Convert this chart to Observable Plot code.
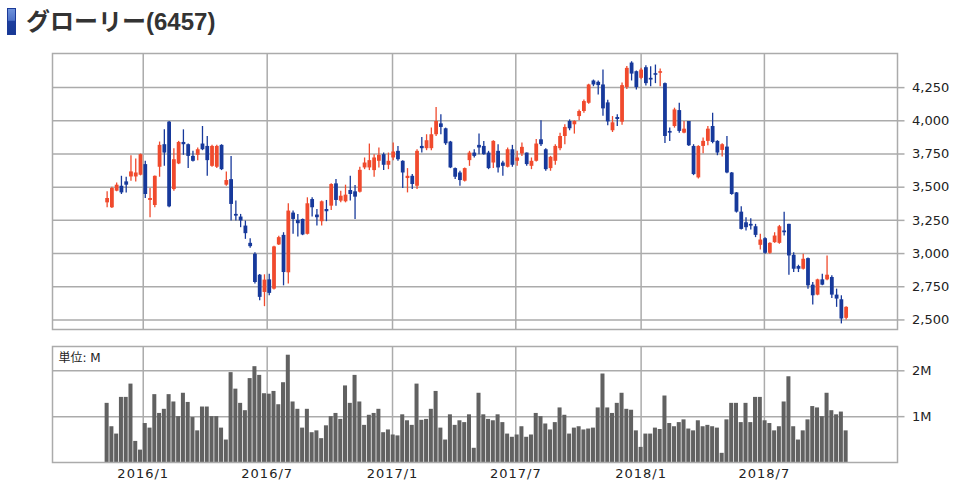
<!DOCTYPE html>
<html><head><meta charset="utf-8">
<script src="https://cdn.jsdelivr.net/npm/d3@7"></script>
<script src="https://cdn.jsdelivr.net/npm/@observablehq/plot@0.6"></script>
<style>
html,body{margin:0;padding:0;background:#fff}
body{width:953px;height:483px;overflow:hidden;position:relative}
#title{position:absolute;left:0;top:0}
#price{position:absolute;left:0;top:45px}
#vol{position:absolute;left:0;top:335px}
#vol svg g[aria-label="x-axis tick label"] text{letter-spacing:1px}
</style></head>
<body>
<svg id="title" width="953" height="45">
  <defs><linearGradient id="mg" x1="0" y1="0" x2="0" y2="1">
    <stop offset="0" stop-color="#6f93dc"/><stop offset="0.45" stop-color="#4f73c8"/><stop offset="0.5" stop-color="#1d3f9f"/><stop offset="1" stop-color="#173894"/></linearGradient></defs>
  <rect x="7.5" y="8.5" width="8" height="26" fill="url(#mg)" stroke="#1b3a98" stroke-width="1"/>
  <text x="26" y="30" font-family="'Liberation Sans','Noto Sans CJK JP',sans-serif" font-weight="bold" font-size="24" fill="#333">グローリー(6457)</text>
</svg>
<div id="price"></div>
<div id="vol"></div>
<script>
const open = [
 3382,3345,3470,3507,3540,3577,3577,3590,3670,3400,
 3362,3650,3820,3990,3482,3675,3837,3820,3732,3740,
 3825,3807,3657,3650,3815,3515,3557,3295,3275,3207,
 3077,2995,2837,2707,2802,2732,3065,3137,2855,3305,
 3250,3257,3145,3407,3290,3240,3332,3357,3525,3395,
 3390,3475,3465,3462,3645,3645,3625,3695,3745,3665,
 3720,3770,3695,3565,3582,3507,3807,3790,3790,3895,
 3977,3940,3840,3640,3607,3545,3700,3757,3815,3807,
 3757,3682,3770,3682,3650,3782,3695,3750,3757,3657,
 3695,3857,3782,3640,3695,3790,3882,3995,3970,4032,
 4070,4132,4300,4290,4270,4135,3925,4025,3990,4250,
 4435,4370,4320,4400,4320,4355,4358,4280,3920,3957,
 4077,3907,3995,3807,3570,3807,3845,3957,3845,3777,
 3802,3607,3457,3312,3232,3220,3202,3062,3112,3002,
 3082,3077,3170,3220,2987,2902,2882,2962,2762,2687,
 2802,2802,2820,2687,2652,2512];
const high = [
 3465,3500,3532,3582,3575,3737,3712,3750,3695,3490,
 3585,3840,3932,3995,3790,3845,3932,3825,3770,3795,
 3957,3882,3815,3815,3820,3615,3732,3395,3295,3245,
 3112,3007,2842,2840,2845,3055,3130,3157,3375,3320,
 3295,3260,3420,3420,3332,3395,3400,3525,3557,3470,
 3515,3582,3512,3650,3720,3825,3745,3795,3757,3757,
 3832,3807,3700,3640,3595,3782,3875,3895,3945,4100,
 4045,3945,3845,3645,3620,3645,3770,3782,3900,3845,
 3770,3850,3820,3695,3795,3815,3770,3832,3757,3720,
 3860,4000,3790,3732,3820,3907,3970,4007,4000,4082,
 4157,4275,4307,4300,4382,4155,4032,4045,4285,4410,
 4445,4375,4395,4415,4407,4420,4390,4285,3945,4095,
 4132,3995,3995,3820,3812,3870,3957,4057,3850,3827,
 3882,3610,3460,3352,3270,3262,3220,3145,3120,3082,
 3157,3212,3312,3220,3007,2912,2995,2967,2782,2807,
 2845,2982,2832,2732,2682,2600];
const low = [
 3345,3340,3465,3445,3457,3545,3540,3585,3415,3270,
 3345,3575,3657,3345,3470,3670,3740,3640,3690,3700,
 3775,3582,3650,3640,3625,3507,3245,3245,3195,3107,
 3040,2770,2645,2600,2682,2725,3060,2757,2770,3145,
 3125,3135,3140,3275,3207,3207,3240,3325,3357,3382,
 3382,3395,3257,3457,3632,3625,3575,3645,3625,3632,
 3700,3695,3490,3457,3482,3482,3757,3775,3775,3882,
 3895,3815,3640,3557,3507,3540,3657,3720,3745,3740,
 3632,3640,3607,3582,3645,3650,3657,3732,3657,3632,
 3690,3807,3620,3620,3665,3775,3820,3925,3900,4000,
 4057,4125,4257,4195,4035,3962,3912,3957,3967,4235,
 4300,4232,4310,4262,4257,4280,4257,3830,3845,3945,
 3907,3902,3807,3587,3562,3752,3812,3827,3737,3727,
 3602,3440,3305,3177,3170,3177,3120,3027,2995,2995,
 3077,3070,3132,2837,2857,2857,2877,2732,2612,2682,
 2757,2795,2662,2595,2470,2500];
const close = [
 3415,3490,3515,3457,3515,3615,3607,3745,3445,3415,
 3582,3815,3757,3352,3707,3837,3820,3732,3695,3782,
 3782,3700,3807,3807,3632,3550,3370,3282,3245,3150,
 3052,2782,2670,2800,2700,3050,3120,2857,3320,3257,
 3225,3140,3375,3345,3270,3390,3315,3520,3400,3432,
 3440,3445,3425,3627,3682,3700,3720,3740,3665,3695,
 3765,3707,3607,3582,3520,3770,3790,3850,3895,3995,
 3950,3827,3645,3575,3550,3640,3757,3732,3795,3745,
 3640,3845,3645,3657,3782,3665,3720,3800,3670,3695,
 3825,3820,3632,3725,3807,3882,3950,3940,3995,4070,
 4145,4270,4270,4265,4090,3992,3985,4010,4265,4395,
 4352,4250,4382,4280,4307,4343,4370,3882,3907,4082,
 3920,3937,3812,3595,3807,3845,3937,3837,3757,3820,
 3607,3445,3312,3182,3195,3207,3137,3102,3002,3077,
 3132,3202,3157,2982,2882,2882,2957,2757,2682,2802,
 2762,2837,2687,2657,2507,2595];
// weekly volume, millions of shares
const volume = [
 1.29,0.78,0.62,1.42,1.42,1.71,0.46,0.27,0.85,0.75,
 1.48,1.07,1.16,1.48,1.32,1.00,1.51,1.31,0.98,0.69,
 1.21,1.21,1.00,1.00,0.75,0.49,1.96,1.60,1.29,1.13,
 1.83,2.09,1.90,1.50,1.49,1.55,1.26,1.74,2.34,1.32,
 1.16,0.75,1.16,0.65,0.69,0.52,0.80,1.00,1.07,0.94,
 1.67,1.29,1.90,1.32,0.81,1.03,1.07,1.16,0.65,0.71,
 0.60,0.58,1.04,0.91,0.81,1.71,0.92,0.94,1.16,1.55,
 0.75,0.49,1.04,0.81,0.91,0.87,1.04,0.31,1.51,1.04,
 0.94,0.91,1.04,0.87,0.62,0.55,0.60,0.78,0.55,0.60,
 1.07,1.00,0.84,0.71,0.87,1.19,1.03,0.62,0.75,0.78,
 0.71,0.73,0.75,1.19,1.93,1.19,1.07,1.29,1.51,1.16,
 1.14,0.69,0.33,0.62,0.62,0.75,0.72,1.45,0.85,0.78,
 0.87,0.93,0.73,0.69,0.91,0.78,0.81,0.78,0.75,0.20,
 0.93,1.29,1.29,0.87,1.29,0.87,1.42,1.42,0.91,0.85,
 0.69,0.78,1.32,1.87,0.78,0.49,0.69,0.93,1.22,1.19,
 1.00,1.51,1.13,1.04,1.10,0.69];
const priceTicks = [2500,2750,3000,3250,3500,3750,4000,4250];
const volTicks = [1,2];
const monthTicks = ["2016-01-01","2016-07-01","2017-01-01","2017-07-01","2018-01-01","2018-07-01"];

const weeks = d3.utcMonday.range(new Date(Date.UTC(2015,10,9)), new Date(Date.UTC(2018,9,30)));
const data = weeks.map((date,i)=>({date, open:open[i], high:high[i], low:low[i], close:close[i], vol:volume[i]}));
const ups = data.filter(d=>d.close>=d.open), downs = data.filter(d=>d.close<d.open);
const xTicks = monthTicks.map(s=>new Date(s+"T00:00Z"));
const xDomain = [new Date("2015-08-20T19:00Z"), new Date("2019-01-12T10:00Z")];
const RED="#f04a2d", BLUE="#17399b", GRID="#ababab", INK="#222";
const DAY = 864e5;
const font = {fontFamily:"'DejaVu Sans',sans-serif", fontSize:13};

const price = Plot.plot({
  width:953, height:290, marginTop:8, marginBottom:6, marginLeft:52, marginRight:56,
  style:{background:"transparent", fontFamily:"'DejaVu Sans',sans-serif", fontSize:"13px", color:INK},
  x:{type:"utc", domain:xDomain, axis:null},
  y:{domain:[2428,4507], axis:null},
  marks:[
    Plot.ruleY(priceTicks,{stroke:GRID, strokeWidth:1.5}),
    Plot.ruleX(xTicks,{stroke:GRID, strokeWidth:1.5}),
    Plot.ruleX(ups,{x:"date", y1:"low", y2:"high", stroke:RED, strokeWidth:1.3}),
    Plot.ruleX(downs,{x:"date", y1:"low", y2:"high", stroke:BLUE, strokeWidth:1.3}),
    Plot.ruleX(ups,{x:"date", y1:"open", y2:"close", stroke:RED, strokeWidth:3.8}),
    Plot.ruleX(downs,{x:"date", y1:"open", y2:"close", stroke:BLUE, strokeWidth:3.8}),
    Plot.frame({stroke:GRID, strokeWidth:1.5}),
    Plot.axisY({ticks:priceTicks, anchor:"right", label:null, tickSize:6.5, tickPadding:8, tickFormat:d3.format(","), stroke:GRID, strokeWidth:1.5, color:INK, ...font})
  ]
});
document.getElementById("price").appendChild(price);

const vol = Plot.plot({
  width:953, height:148, marginTop:11, marginBottom:21, marginLeft:52, marginRight:56,
  style:{background:"transparent", fontFamily:"'DejaVu Sans',sans-serif", fontSize:"13px", color:INK},
  x:{type:"utc", domain:xDomain, axis:null},
  y:{domain:[0,2.53], axis:null},
  marks:[
    Plot.ruleY(volTicks,{stroke:GRID, strokeWidth:1.5}),
    Plot.ruleX(xTicks,{stroke:GRID, strokeWidth:1.5}),
    Plot.rectY(data,{x1:d=>new Date(+d.date-2.95*DAY), x2:d=>new Date(+d.date+2.95*DAY), y:"vol", fill:"#616161"}),
    Plot.frame({stroke:GRID, strokeWidth:1.5}),
    Plot.axisY({ticks:volTicks, anchor:"right", label:null, tickSize:6.5, tickPadding:8, tickFormat:d=>d+"M", stroke:GRID, strokeWidth:1.5, color:INK, ...font}),
    Plot.axisX({ticks:xTicks, anchor:"bottom", label:null, tickSize:0, tickPadding:6, tickFormat:d3.utcFormat("%Y/%-m"), color:INK, ...font}),
    Plot.text(["単位: M"],{frameAnchor:"top-left", lineAnchor:"top", textAnchor:"start", dx:6, dy:6.5, fill:INK, fontSize:12, fontFamily:"'DejaVu Sans','Noto Sans CJK JP',sans-serif"})
  ]
});
document.getElementById("vol").appendChild(vol);
</script>
</body></html>
